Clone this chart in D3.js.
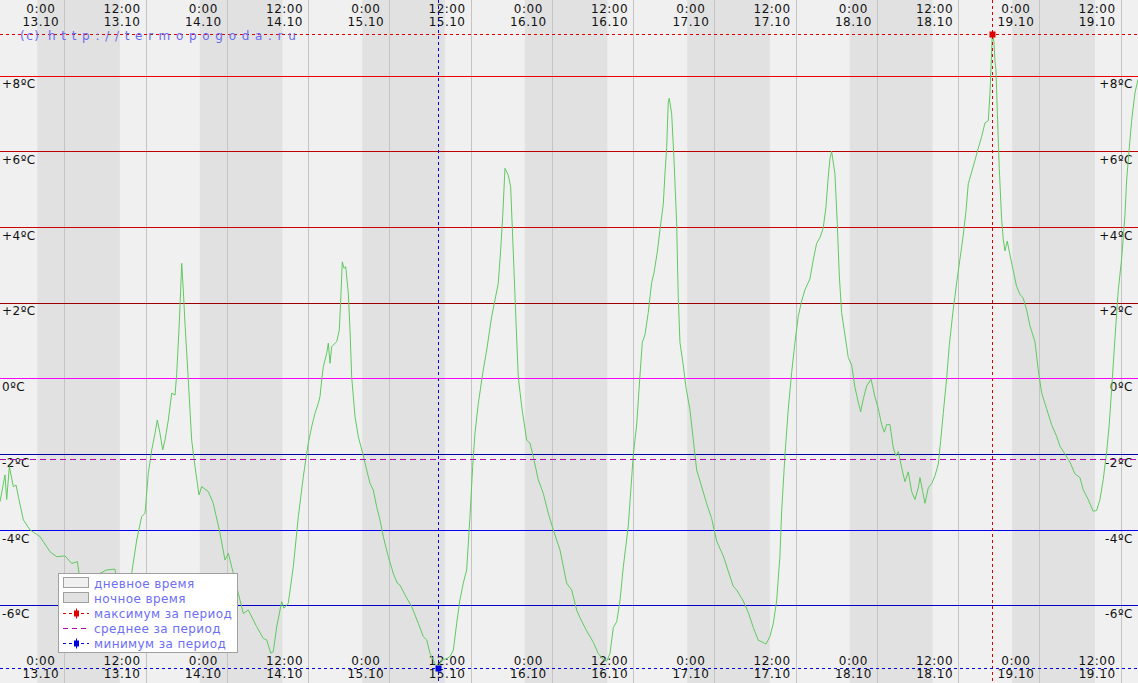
<!DOCTYPE html>
<html><head><meta charset="utf-8">
<script src="https://cdn.jsdelivr.net/npm/d3@7"></script>
<style>
body{margin:0;background:#f0f0f0;overflow:hidden}
svg{display:block}
text{font-family:"DejaVu Sans",sans-serif;font-size:12px}
</style>
</head><body>
<svg id="chart" width="1138" height="683"></svg>
<script>
// hours since 13.10 0:00
const obsHours = [-9.5,-8.76,-8.51,-8.12,-7.53,-7.13,-6.79,-6.05,-5.07,-3.59,-2.11,-1.12,0.1,1.09,1.92,2.32,2.81,3.54,4.28,5.27,6.26,7.49,7.97,8.71,9.45,9.95,10.69,11.43,11.92,12.4,12.91,13.39,13.73,14.13,14.53,14.87,15.36,15.86,16.35,16.6,16.98,17.34,17.57,17.82,18.31,18.81,19.3,19.89,20.29,21.26,22.0,22.99,23.73,24.22,24.96,25.7,26.43,27.17,28.41,29.39,29.89,30.48,30.86,31.37,32.1,32.44,33.08,33.82,34.56,35.29,36.03,36.53,37.02,37.51,37.76,38.01,38.25,38.75,38.99,39.24,39.49,40.23,40.61,40.82,41.05,41.3,41.56,41.94,42.19,42.44,42.93,43.42,44.07,44.66,45.14,45.63,46.13,46.62,47.11,47.85,48.58,49.18,49.57,50.31,51.3,52.28,53.01,53.52,54.0,54.74,55.23,55.73,56.47,56.96,57.45,57.95,58.43,58.92,59.42,59.91,60.31,60.65,61.14,61.87,62.38,63.11,63.6,64.09,64.44,64.74,65.08,65.57,65.92,66.31,66.6,67.04,67.55,68.28,68.77,69.26,70.0,70.74,71.47,72.21,73.2,74.19,74.93,75.67,76.15,77.14,78.12,78.86,79.6,80.1,80.59,81.08,81.58,82.06,82.55,83.29,84.03,84.53,85.01,85.36,85.75,86.24,86.74,87.08,87.57,87.97,88.46,88.71,88.96,89.19,89.34,89.7,90.04,90.43,90.67,90.92,91.41,91.81,92.4,92.89,93.39,93.88,94.87,95.6,96.34,97.32,98.05,98.79,99.29,100.27,101.01,101.75,102.49,103.13,103.62,104.21,104.7,105.2,105.69,105.94,106.43,106.91,107.42,107.91,108.39,108.89,109.38,110.12,110.61,111.11,111.6,112.08,112.48,112.82,113.07,113.32,113.81,114.15,114.45,114.8,115.29,115.78,116.28,116.77,117.26,117.61,118.0,118.5,119.14,119.73,120.21,120.71,121.1,121.45,121.94,122.43,122.83,123.17,123.66,124.15,124.64,125.14,125.63,126.12,126.37,126.77,127.11,127.6,128.1,128.59,129.08,129.43,129.82,130.32,130.7,131.2,131.79,132.28,132.76,133.16,133.5,134.0,134.49,134.98,135.48,135.97,136.46,136.71,136.96,137.05,137.3,137.45,137.59,137.78,138.08,138.43,138.67,138.92,139.26,139.66,140.14,140.64,141.13,141.62,142.12,142.61,143.35,143.83,144.33,145.07,145.81,146.55,147.04,147.78,148.52,149.25,149.99,150.48,151.22,151.96,152.46,152.95,153.44,153.94,154.32,154.68,155.17,155.65,156.15,156.64,156.89,157.28,157.63,158.12,158.57];
const obsTemps = [-3.26,-2.55,-3.2,-2.33,-2.86,-2.82,-3.12,-3.74,-4.0,-4.18,-4.58,-4.71,-4.69,-4.89,-4.84,-5.33,-5.24,-5.63,-5.5,-5.15,-5.06,-5.04,-5.68,-5.9,-5.68,-5.15,-4.27,-3.65,-3.56,-2.51,-1.89,-1.45,-1.1,-1.45,-1.89,-1.63,-1.1,-0.39,-0.44,0.13,1.46,3.04,2.34,1.46,-0.04,-1.63,-2.33,-3.08,-2.86,-2.99,-3.3,-4.09,-4.8,-4.62,-5.15,-5.68,-6.21,-6.12,-6.56,-6.87,-6.91,-7.26,-7.22,-6.56,-5.9,-6.07,-5.94,-4.97,-3.65,-2.6,-1.71,-1.28,-0.92,-0.66,-0.48,-0.04,0.31,0.66,0.93,0.4,0.84,0.97,1.28,2.07,3.08,2.91,2.95,2.25,1.28,0.04,-1.01,-1.54,-1.98,-2.42,-2.77,-2.95,-3.39,-3.74,-4.18,-4.71,-5.15,-5.41,-5.46,-5.72,-6.03,-6.47,-6.82,-6.91,-7.26,-7.53,-7.64,-7.44,-7.4,-7.35,-7.18,-6.47,-5.85,-5.41,-5.06,-3.65,-2.33,-1.45,-0.66,0.22,0.75,1.63,2.07,2.51,3.39,4.27,5.55,5.37,5.06,3.31,1.98,0.04,-0.75,-1.63,-1.71,-2.07,-2.68,-3.04,-3.56,-4.0,-4.53,-5.41,-5.59,-6.12,-6.32,-6.67,-6.97,-7.27,-7.42,-7.47,-7.27,-6.58,-6.43,-5.88,-4.99,-3.9,-2.02,-1.23,0.06,0.95,1.15,1.74,2.53,2.78,3.33,3.92,4.61,5.41,6.1,7.29,7.4,6.99,5.8,4.12,2.14,0.95,0.35,-0.24,-0.83,-1.62,-2.42,-2.71,-3.31,-3.7,-4.3,-4.69,-5.09,-5.49,-5.59,-5.88,-6.18,-6.58,-6.92,-6.97,-7.02,-6.82,-6.48,-5.88,-4.69,-3.51,-2.02,-0.83,0.16,0.95,1.64,2.04,2.34,2.63,3.13,3.57,3.72,3.97,4.52,5.31,5.8,6.0,5.41,4.12,2.73,1.74,1.15,0.55,0.35,-0.24,-0.63,-0.88,-0.54,-0.2,-0.02,-0.49,-0.8,-1.22,-1.42,-1.22,-1.22,-1.84,-2.05,-1.93,-2.36,-2.73,-2.47,-2.99,-3.2,-2.89,-2.62,-2.99,-3.3,-2.89,-2.78,-2.57,-2.26,-1.64,-0.9,0.03,0.87,1.7,2.53,3.16,3.78,4.41,5.14,5.45,5.76,6.08,6.39,6.75,6.81,7.54,8.68,9.1,8.89,8.37,8.16,7.12,5.55,4.2,3.68,3.37,3.63,3.26,2.85,2.43,2.22,2.12,1.81,1.39,0.97,0.24,-0.38,-0.8,-1.22,-1.53,-1.79,-2.0,-2.21,-2.52,-2.62,-2.94,-3.2,-3.51,-3.49,-3.2,-2.67,-1.94,-1.22,-0.28,1.07,2.32,3.16,4.3,5.24,6.08,6.81,7.54,7.9];
const meanTemp = -2.12;

const tickHours = [0,12,24,36,48,60,72,84,96,108,120,132,144,156];
const tickTimeLabels = ["0:00","12:00","0:00","12:00","0:00","12:00","0:00","12:00","0:00","12:00","0:00","12:00","0:00","12:00"];
const tickDateLabels = ["13.10","13.10","14.10","14.10","15.10","15.10","16.10","16.10","17.10","17.10","18.10","18.10","19.10","19.10"];

const tempTicks = [-6,-4,-2,0,2,4,6,8];
const tempTickLabels = ["-6ºC","-4ºC","-2ºC","0ºC","+2ºC","+4ºC","+6ºC","+8ºC"];
const tempLineColors = ["#0000cc","#0000ee","#0000aa","#ff00ff","#990000","#cc0000","#bb0000","#ee0000"];

const nightStartHours = [-4,20,44,68,92,116,140];
const nightEndHours = [8.2,32.2,56.2,80.2,104.2,128.2,152.2];

const legendLabels = ["дневное время","ночное время","максимум за период","среднее за период","минимум за период"];
const watermark = ["(c)","http://termopogoda.ru"];

const W = 1138, H = 683;
const svg = d3.select("#chart");
const x = d3.scaleLinear().domain([-9.5, 158.57]).range([0, W]);
const y = d3.scaleLinear().domain([0, 8]).range([378.4, 75.6]);

const n = Math.min(obsHours.length, obsTemps.length);
const data = d3.range(n).map(i => ({h: obsHours[i], t: obsTemps[i]}));
const maxPt = data[d3.maxIndex(data, d => d.t)];
const minPt = data[d3.minIndex(data, d => d.t)];

// background
svg.append("rect").attr("width", W).attr("height", H).attr("fill", "#f0f0f0");
svg.append("g").selectAll("rect").data(nightStartHours).join("rect")
  .attr("x", (d,i) => x(d)).attr("y", 0)
  .attr("width", (d,i) => x(nightEndHours[i]) - x(d)).attr("height", H)
  .attr("fill", "#e1e1e1");

// vertical grid
svg.append("g").selectAll("line").data(tickHours).join("line")
  .attr("x1", d => Math.round(x(d)) + 0.5).attr("x2", d => Math.round(x(d)) + 0.5)
  .attr("y1", 0).attr("y2", H).attr("stroke", "#c4c4c4").attr("stroke-width", 1);

// horizontal temperature lines
svg.append("g").selectAll("line").data(tempTicks).join("line")
  .attr("x1", 0).attr("x2", W)
  .attr("y1", d => Math.round(y(d)) + 0.5).attr("y2", d => Math.round(y(d)) + 0.5)
  .attr("stroke", (d,i) => tempLineColors[i]).attr("stroke-width", 1);

// y labels
const yl = svg.append("g").attr("fill", "#111").style("letter-spacing", "0.5px");
yl.selectAll("text.l").data(tempTicks).join("text").attr("class","l")
  .attr("x", 2).attr("y", d => y(d) + 12.7).text((d,i) => tempTickLabels[i]);
yl.selectAll("text.r").data(tempTicks).join("text").attr("class","r")
  .attr("x", 1133).attr("y", d => y(d) + 12.7).attr("text-anchor","end").text((d,i) => tempTickLabels[i]);

// x labels top & bottom
const xl = svg.append("g").attr("fill", "#111").attr("text-anchor","middle").style("letter-spacing","0.5px");
[[12.7, 26], [665, 678]].forEach(([y1, y2]) => {
  xl.append("g").selectAll("text").data(tickHours).join("text")
    .attr("x", d => x(d) - 23.5).attr("y", y1).text((d,i) => tickTimeLabels[i]);
  xl.append("g").selectAll("text").data(tickHours).join("text")
    .attr("x", d => x(d) - 23.5).attr("y", y2).text((d,i) => tickDateLabels[i]);
});

// temperature line
svg.append("path").datum(data)
  .attr("d", d3.line().x(d => x(d.h)).y(d => y(d.t)))
  .attr("fill", "none").attr("stroke", "#5fca5f").attr("stroke-width", 1);

// mean line
svg.append("line").attr("x1", 0).attr("x2", W)
  .attr("y1", Math.round(y(meanTemp)) + 0.5).attr("y2", Math.round(y(meanTemp)) + 0.5)
  .attr("stroke", "#b000b0").attr("stroke-dasharray", "6,4");

// max / min lines
function extreme(pt, color) {
  const px = Math.round(x(pt.h)) + 0.5, py = Math.round(y(pt.t)) + 0.5;
  svg.append("line").attr("x1", 0).attr("x2", W).attr("y1", py).attr("y2", py)
    .attr("stroke", color).attr("stroke-dasharray", "3,3");
  svg.append("line").attr("x1", px).attr("x2", px).attr("y1", 0).attr("y2", H)
    .attr("stroke", color).attr("stroke-dasharray", "3,3");
  svg.append("rect").attr("x", px - 3).attr("y", py - 3).attr("width", 6).attr("height", 6).attr("fill", color);
}
extreme(maxPt, "#e00000");
extreme(minPt, "#0000e0");

// watermark
const wm = svg.append("text").attr("y", 40).attr("fill", "#6a6af0");
wm.append("tspan").attr("x", 20).style("letter-spacing", "1.5px").text(watermark[0]);
wm.append("tspan").attr("x", 48).style("letter-spacing", "5.7px").text(watermark[1]);

// legend
const lg = svg.append("g");
lg.append("rect").attr("x", 58.5).attr("y", 573.5).attr("width", 179).attr("height", 79)
  .attr("fill", "#ffffff").attr("stroke", "#a0a0a0");
const rowY = [583, 598, 613, 628, 643];
lg.append("rect").attr("x", 63.5).attr("y", rowY[0] - 5.5).attr("width", 25).attr("height", 10)
  .attr("fill", "#f0f0f0").attr("stroke", "#a0a0a0");
lg.append("rect").attr("x", 63.5).attr("y", rowY[1] - 5.5).attr("width", 25).attr("height", 10)
  .attr("fill", "#e1e1e1").attr("stroke", "#a0a0a0");
const legLines = [[2, "#e00000", "3,3", true], [3, "#b000b0", "5,4", false], [4, "#0000e0", "3,3", true]];
legLines.forEach(([i, c, dash, mark]) => {
  const yy = rowY[i] + 0.5;
  lg.append("line").attr("x1", 63).attr("x2", 89).attr("y1", yy).attr("y2", yy)
    .attr("stroke", c).attr("stroke-dasharray", dash);
  if (mark) {
    lg.append("line").attr("x1", 76.5).attr("x2", 76.5).attr("y1", yy - 5).attr("y2", yy + 5).attr("stroke", c);
    lg.append("rect").attr("x", 74).attr("y", yy - 3).attr("width", 5).attr("height", 6).attr("fill", c);
  }
});
lg.selectAll("text").data(legendLabels).join("text")
  .attr("x", 94).attr("y", (d,i) => rowY[i] + 4.5).attr("fill", "#6e6ef5")
  .style("letter-spacing", "0.4px").text(d => d);
</script>
</body></html>
